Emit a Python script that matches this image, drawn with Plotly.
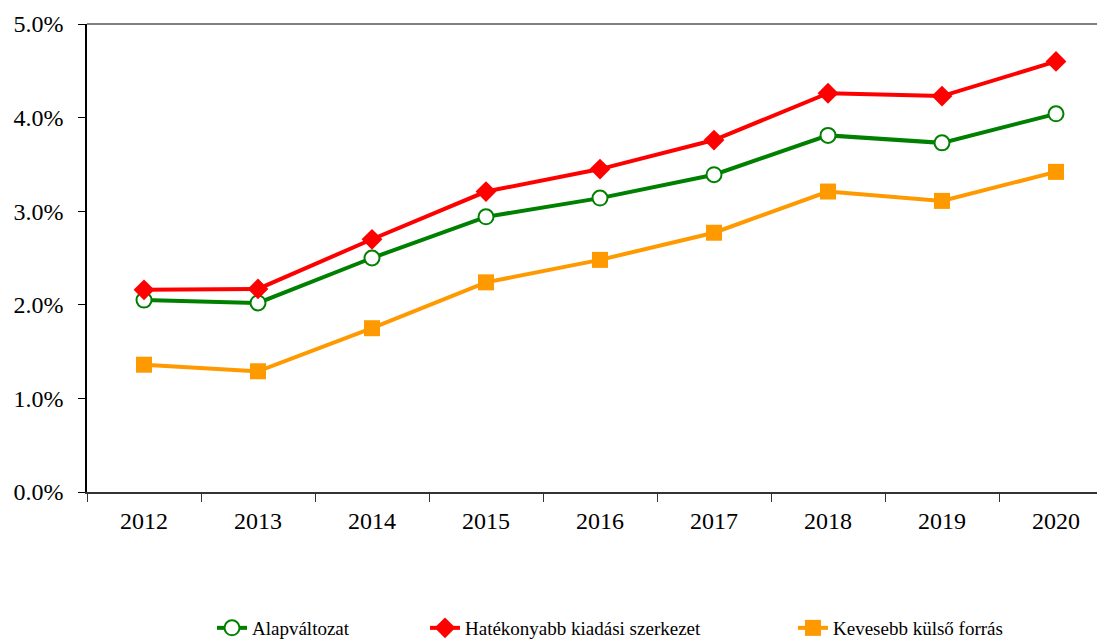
import plotly.graph_objects as go

years = ["2012", "2013", "2014", "2015", "2016", "2017", "2018", "2019", "2020"]
alap = [0.0205, 0.0202, 0.0250, 0.0294, 0.0314, 0.0339, 0.0381, 0.0373, 0.0404]
hatekony = [0.0216, 0.0217, 0.0270, 0.0321, 0.0345, 0.0376, 0.0426, 0.0423, 0.0460]
kevesebb = [0.0136, 0.0129, 0.0175, 0.0224, 0.0248, 0.0277, 0.0321, 0.0311, 0.0342]
names = ["Alapváltozat", "Hatékonyabb kiadási szerkezet", "Kevesebb külső forrás"]
yticks = [0, 0.01, 0.02, 0.03, 0.04, 0.05]

FONT = "Liberation Serif, Times New Roman, serif"

fig = go.Figure()
fig.add_trace(go.Scatter(x=years, y=alap, name=names[0], mode="lines+markers",
                         legend="legend",
                         line=dict(color="#008000", width=4),
                         marker=dict(symbol="circle", size=15, color="white",
                                     line=dict(color="#008000", width=2))))
fig.add_trace(go.Scatter(x=years, y=hatekony, name=names[1], mode="lines+markers",
                         legend="legend2",
                         line=dict(color="#FF0000", width=4),
                         marker=dict(symbol="diamond", size=16, color="#FF0000")))
fig.add_trace(go.Scatter(x=years, y=kevesebb, name=names[2], mode="lines+markers",
                         legend="legend3",
                         line=dict(color="#FF9900", width=4),
                         marker=dict(symbol="square", size=16, color="#FF9900")))

fig.add_shape(type="line", xref="paper", yref="paper", x0=0, x1=1, y0=1, y1=1,
              line=dict(color="#808080", width=2))

def leg(xpx):
    return dict(orientation="h", xref="container", yref="container",
                x=xpx / 1105, xanchor="left", y=22 / 642, yanchor="middle",
                font=dict(size=19, family=FONT, color="black"),
                bgcolor="rgba(0,0,0,0)", itemwidth=30)

fig.update_layout(
    width=1105, height=642,
    margin=dict(l=79, r=0, t=16, b=158, autoexpand=False),
    paper_bgcolor="white", plot_bgcolor="white",
    font=dict(family=FONT, color="black", size=24),
    showlegend=True,
    legend=leg(204),
    legend2=leg(417),
    legend3=leg(785),
    xaxis=dict(type="category", range=[-0.5, 8.5], showgrid=False, automargin=False,
               showline=True, linecolor="#333333", linewidth=1.5,
               ticks="outside", tickson="boundaries", ticklen=8, tickcolor="#333333",
               tickwidth=1, tickfont=dict(size=24), ticklabelstandoff=6),
    yaxis=dict(range=[0, 0.05], tickvals=yticks, tickformat=".1%", showgrid=False,
               automargin=False,
               showline=True, linecolor="black", linewidth=1.5,
               ticks="outside", ticklen=7, tickcolor="black", tickwidth=1,
               tickfont=dict(size=24), zeroline=False, ticklabelstandoff=10),
)
fig.write_html("out.html")
